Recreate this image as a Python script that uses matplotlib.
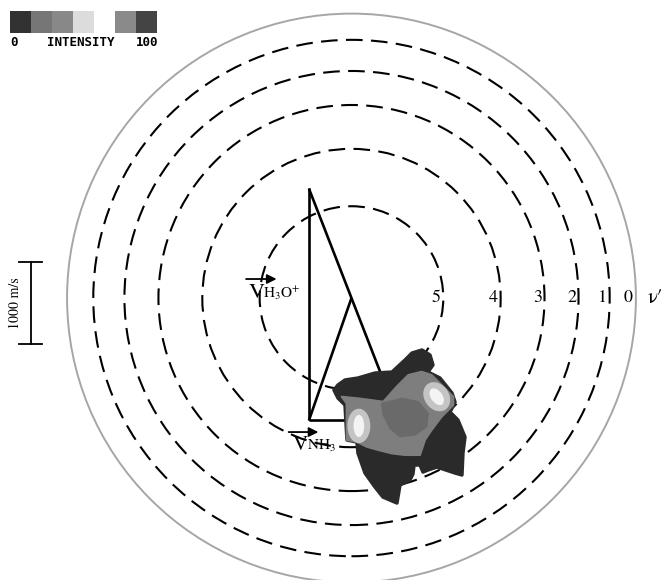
import matplotlib

matplotlib.use("Agg")
import matplotlib.pyplot as plt
from matplotlib.patches import Circle, Ellipse, Polygon

plt.rcParams["font.family"] = ["STIXGeneral", "DejaVu Serif"]
plt.rcParams["mathtext.fontset"] = "stix"

# Newton diagram (m/s), centre-of-mass frame
m_h3o, m_nh3 = 19.0, 17.0
v_h3o = (0.0, 2830.0)
v_nh3 = (1100.0, 0.0)

# v' = 5 ... 1 energy-limit circles, and v' = 0 outer limit
ring_radii = [1120, 1820, 2355, 2770, 3150]
ring_labels = ["5", "4", "3", "2", "1"]
outer_radius = 3470
outer_label = "0"

# flux contour map (m/s, CM frame)
blob_dark = [
    (-165, -1061), (-79, -1000), (79, -976), (287, -915), (494, -903), (653, -756),
    (738, -671), (860, -634), (958, -695), (994, -817), (933, -903), (1080, -976),
    (1226, -1159), (1263, -1269), (1202, -1391), (1299, -1488), (1385, -1696),
    (1360, -1891), (1348, -2159), (1263, -2135), (1043, -2062), (933, -2098),
    (872, -2123), (836, -2037), (763, -2037), (750, -2147), (714, -2220),
    (592, -2281), (555, -2501), (384, -2428), (287, -2306), (165, -2135),
    (79, -1891), (67, -1757), (-55, -1732), (-79, -1305), (-165, -1220), (-214, -1122),
]
blob_mid = [
    (-120, -1204), (83, -1224), (388, -1265), (551, -1082), (693, -939), (856, -899),
    (978, -939), (1242, -1204), (1242, -1305), (1100, -1448), (978, -1610),
    (897, -1732), (836, -1915), (653, -1915), (490, -1895), (327, -1854),
    (185, -1814), (63, -1753), (-59, -1732), (-59, -1285),
]
blob_valley = [
    (368, -1285), (612, -1224), (815, -1265), (937, -1407), (917, -1570),
    (775, -1671), (592, -1692), (470, -1590), (388, -1427),
]
# bright spots: centre, width, height, angle
spots = [((90, -1560), 280, 420, 0), ((1040, -1204), 300, 380, 35)]
spot_cores = [((90, -1560), 130, 270, 0), ((1040, -1204), 140, 230, 35)]

# intensity key (grey levels, None = gap)
key_levels = ["#323232", "#767676", "#888888", "#dcdcdc", None, "#8a8a8a", "#444444"]


def main() -> None:
    fig = plt.figure(figsize=(6.65, 5.8), dpi=100)
    ax = fig.add_axes([0, 0, 1, 1])
    ax.set_xlim(-4288, 3825)
    ax.set_ylim(-3440, 3636)
    ax.axis("off")

    # circles
    for r, lab in zip(ring_radii, ring_labels):
        ax.add_patch(Circle((0, 0), r, fill=False, color="black", lw=1.5,
                            linestyle=(0, (8, 4)), zorder=1))
        ax.text(r - 30, 0, lab, ha="right", va="center", fontsize=13, zorder=2)
    ax.add_patch(Circle((0, 0), outer_radius, fill=False, color="#a6a6a6", lw=1.4, zorder=1))
    ax.text(outer_radius - 40, 0, outer_label, ha="right", va="center", fontsize=13)
    ax.text(outer_radius + 140, 0, "ν′", ha="left", va="center", fontsize=15)

    # Newton diagram
    mt = m_h3o + m_nh3
    ox = -(m_h3o * v_h3o[0] + m_nh3 * v_nh3[0]) / mt
    oy = -(m_h3o * v_h3o[1] + m_nh3 * v_nh3[1]) / mt
    tip_h = (ox + v_h3o[0], oy + v_h3o[1])
    tip_n = (ox + v_nh3[0], oy + v_nh3[1])
    kw = dict(color="black", lw=1.9, solid_capstyle="butt", zorder=3)
    ax.plot([ox, tip_h[0]], [oy, tip_h[1]], **kw)
    ax.plot([ox, tip_n[0]], [oy, tip_n[1]], **kw)
    ax.plot([tip_h[0], tip_n[0]], [tip_h[1], tip_n[1]], **kw)
    ax.plot([ox, 0], [oy, 0], **kw)

    # contour map
    ax.add_patch(Polygon(blob_dark, closed=True, fc="#2a2a2a", ec="#2a2a2a", lw=2.5,
                         joinstyle="round", zorder=5))
    ax.add_patch(Polygon(blob_mid, closed=True, fc="#7e7e7e", ec="#7e7e7e", lw=1.5,
                         joinstyle="round", zorder=6))
    ax.add_patch(Polygon(blob_valley, closed=True, fc="#6a6a6a", ec="#6a6a6a", lw=1.0,
                         joinstyle="round", zorder=7))
    for (c, w, h, a) in spots:
        ax.add_patch(Ellipse(c, w, h, angle=a, fc="#c4c4c4", ec="none", zorder=8))
    for (c, w, h, a) in spot_cores:
        ax.add_patch(Ellipse(c, w, h, angle=a, fc="#f4f4f4", ec="none", zorder=9))

    # vector labels
    ax.text(-1250, 0, "V", fontsize=16, ha="left", va="baseline", zorder=4)
    ax.text(-1075, 0, r"H$_3$O$^{+}$", fontsize=11, ha="left", va="baseline", zorder=4)
    ax.annotate("", xy=(-880, 232), xytext=(-1320, 232),
                arrowprops=dict(arrowstyle="-|>", color="black", lw=1.3, mutation_scale=14),
                zorder=4)
    ax.text(-714, -1854, "V", fontsize=15, ha="left", va="baseline", zorder=4)
    ax.text(-545, -1854, r"NH$_3$", fontsize=11, ha="left", va="baseline", zorder=4)
    ax.annotate("", xy=(-370, -1635), xytext=(-800, -1635),
                arrowprops=dict(arrowstyle="-|>", color="black", lw=1.3, mutation_scale=14),
                zorder=4)

    # 1000 m/s scale bar
    sx, sy0 = -3914, -561
    ax.plot([sx, sx], [sy0, sy0 + 1000], color="black", lw=1.3)
    for y in (sy0, sy0 + 1000):
        ax.plot([sx - 140, sx + 140], [y, y], color="black", lw=1.3)
    ax.text(-4105, -61, "1000 m/s", rotation=90, ha="center", va="center", fontsize=10)

    # intensity key
    kax = fig.add_axes([10 / 665, 1 - 32.7 / 580, 147 / 665, 22 / 580])
    for i, g in enumerate(key_levels):
        if g is not None:
            kax.bar(i, 1, width=1.0, color=g, align="edge")
    kax.set_xlim(0, len(key_levels))
    kax.set_ylim(0, 1)
    kax.axis("off")
    tkw = dict(fontsize=9, fontweight="bold", family="DejaVu Sans Mono", va="center")
    fig.text(10 / 665, 1 - 43 / 580, "0", ha="left", **tkw)
    fig.text(81 / 665, 1 - 43 / 580, "INTENSITY", ha="center", **tkw)
    fig.text(158 / 665, 1 - 43 / 580, "100", ha="right", **tkw)

    fig.savefig("out.png", dpi=100)
    plt.close(fig)


if __name__ == "__main__":
    main()
